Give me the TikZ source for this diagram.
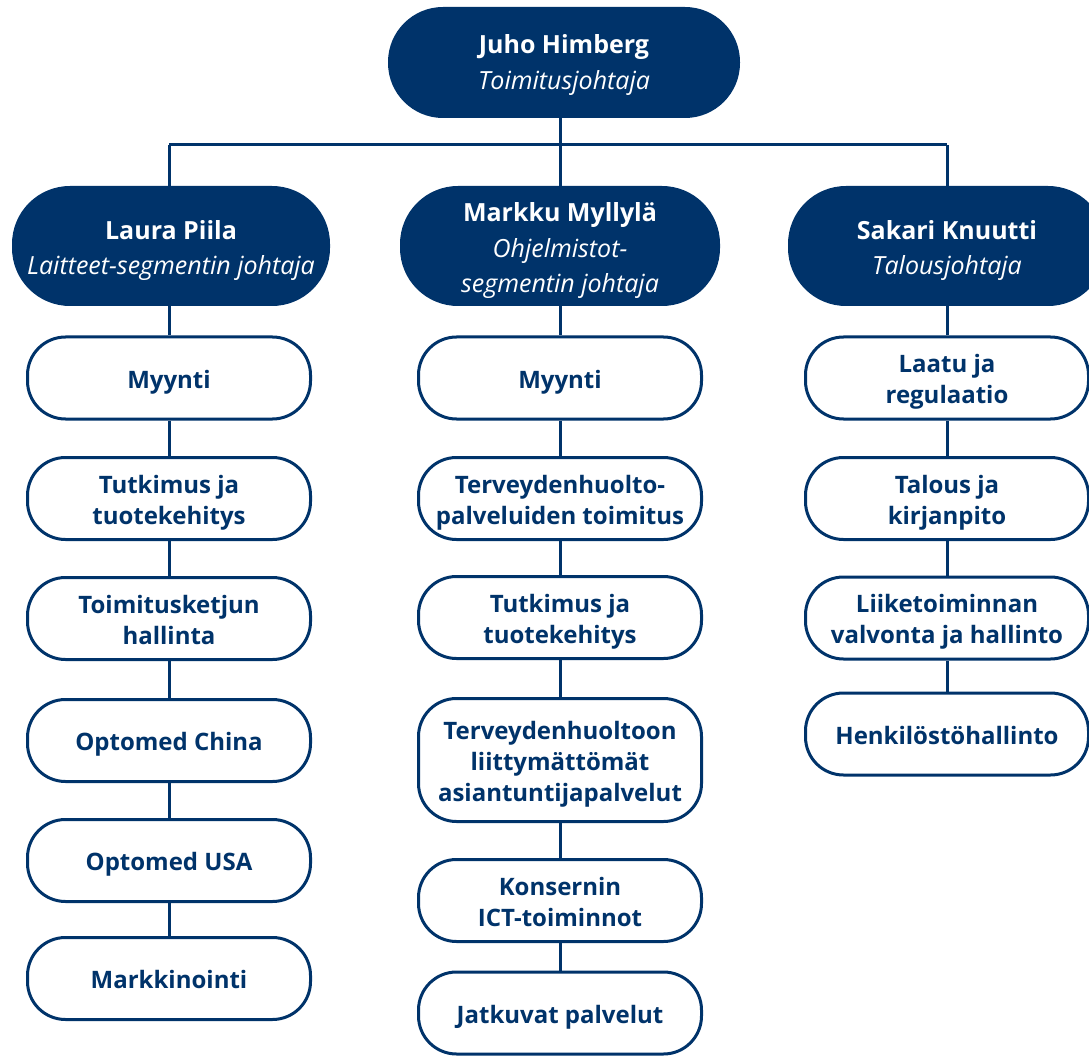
\documentclass[tikz,border=0pt]{standalone}
\usepackage{fontspec}
\setmainfont{Open Sans}
\definecolor{navy}{RGB}{0,51,106}
\newcommand{\bossfont}{\fontsize{25}{35.5}\selectfont}
\newcommand{\unitfont}{\fontsize{24}{31}\selectfont\bfseries}
% lower the lines of a label by #1 without changing its size
\newcommand{\lbl}[2][4pt]{\raisebox{-#1}[\height][\depth]{\begin{tabular}{@{}c@{}}#2\end{tabular}}}
\begin{document}
\begin{tikzpicture}[x=1pt,y=-1pt,
  boss/.style={fill=navy, text=white, rounded corners=58pt, minimum width=318pt, minimum height=120pt, inner sep=0pt, font=\bossfont},
  unit/.style={draw=navy, line width=3pt, fill=white, text=navy, rounded corners=38pt, minimum width=283pt, minimum height=82pt, inner sep=0pt, font=\unitfont},
  link/.style={draw=navy, line width=3pt}]
\useasboundingbox (0,0) rectangle (1089,1056);
\clip (0,0) rectangle (1089,1056);
% top
\node[boss, rounded corners=55pt, minimum width=352pt, minimum height=111pt] (top) at (564,62.5) {\lbl[2pt]{\textbf{Juho Himberg}\\\textit{Toimitusjohtaja}}};
% managers
\node[boss] (m1) at (171,246) {\lbl{\textbf{Laura Piila}\\\textit{Laitteet-segmentin johtaja}}};
\node[boss, minimum width=320pt] (m2) at (560,246) {\lbl{\textbf{Markku Myllylä}\\\textit{Ohjelmistot-}\\\textit{segmentin johtaja}}};
\node[boss] (m3) at (947,246) {\lbl{\textbf{Sakari Knuutti}\\\textit{Talousjohtaja}}};
% left column
\node[unit] (a1) at (169,378) {\lbl{Myynti}};
\node[unit] (a2) at (169,498.5) {\lbl{Tutkimus ja\\tuotekehitys}};
\node[unit] (a3) at (169,618.5) {\lbl{Toimitusketjun\\hallinta}};
\node[unit] (a4) at (169,740.5) {\lbl{Optomed China}};
\node[unit] (a5) at (169,860.5) {\lbl{Optomed USA}};
\node[unit] (a6) at (169,978.5) {\lbl{Markkinointi}};
% middle column
\node[unit] (b1) at (560,378) {\lbl{Myynti}};
\node[unit] (b2) at (560,498.5) {\lbl{Terveydenhuolto-\\palveluiden toimitus}};
\node[unit] (b3) at (560,617.5) {\lbl{Tutkimus ja\\tuotekehitys}};
\node[unit, minimum height=123pt] (b4) at (560,760) {\lbl{Terveydenhuoltoon\\liittymättömät\\asiantuntijapalvelut}};
\node[unit] (b5) at (560,900.5) {\lbl{Konsernin\\ICT-toiminnot}};
\node[unit] (b6) at (560,1013) {\lbl{Jatkuvat palvelut}};
% right column
\node[unit] (c1) at (947,378) {\lbl{Laatu ja\\regulaatio}};
\node[unit] (c2) at (947,498.5) {\lbl{Talous ja\\kirjanpito}};
\node[unit] (c3) at (947,618) {\lbl{Liiketoiminnan\\valvonta ja hallinto}};
\node[unit] (c4) at (947,734) {\lbl{Henkilöstöhallinto}};
% connectors
\coordinate (busL) at (169,145);
\coordinate (busR) at (947,145);
\draw[link] (busL) -- (busR);
\draw[link] (m2.north |- top.south) -- (m2.north);
\draw[link] (busL) -- (m1.north -| busL);
\draw[link] (busR) -- (m3.north);
\draw[link] (m1.south -| a1.north) -- (a1.north);
\draw[link] (a1) -- (a2) -- (a3) -- (a4) -- (a5) -- (a6);
\draw[link] (m2.south) -- (b1.north);
\draw[link] (b1) -- (b2) -- (b3) -- (b4) -- (b5) -- (b6);
\draw[link] (m3.south) -- (c1.north);
\draw[link] (c1) -- (c2) -- (c3) -- (c4);
\end{tikzpicture}
\end{document}
